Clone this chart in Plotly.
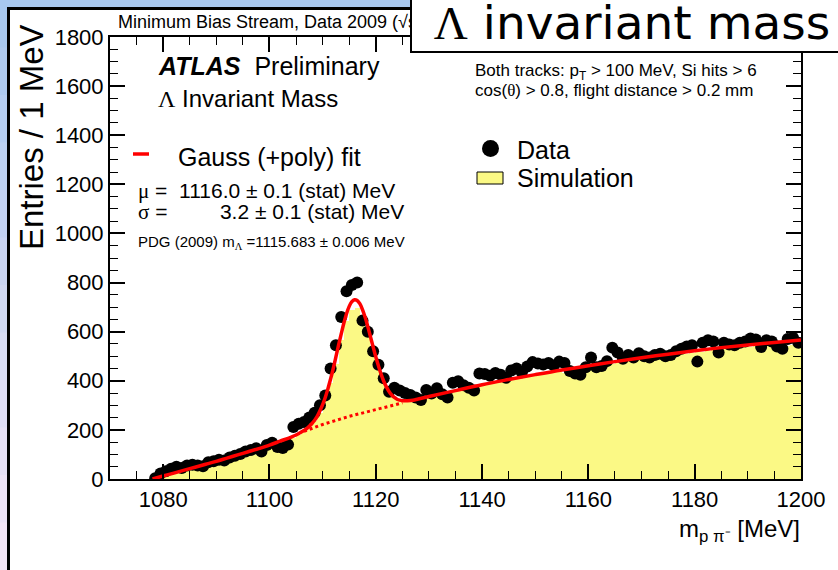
import plotly.graph_objects as go

# ---------------- data ----------------
bin_centers = [1078.5 + i for i in range(122)]

data_counts = [
    3, 22, 32, 42, 50, 45, 55, 58, 55, 52,
    68, 72, 78, 75, 88, 95, 102, 112, 118, 125,
    112, 138, 148, 130, 126, 140, 212, 225, 232, 250,
    270, 300, 340, 450, 545, 660, 765, 790, 800, 645,
    600, 520, 465, 410, 355, 372, 360, 350, 342, 332,
    322, 362, 348, 370, 345, 332, 392, 398, 382, 372,
    360, 430, 428, 420, 432, 425, 412, 442, 450, 435,
    458, 476, 470, 466, 472, 462, 478, 472, 440, 430,
    425, 455, 495, 455, 460, 480, 535, 515, 490, 505,
    495, 512, 500, 495, 505, 510, 500, 505, 520, 530,
    540, 545, 478, 555, 565, 560, 515, 555, 548, 545,
    555, 560, 572, 568, 538, 565, 560, 540, 530, 570,
    575, 555,
]

sim_counts = [
    2, 8, 14, 20, 26, 31, 37, 43, 49, 55,
    60, 66, 72, 78, 84, 91, 97, 104, 111, 117,
    124, 131, 138, 146, 153, 161, 168, 178, 192, 210,
    235, 270, 325, 390, 470, 565, 645, 690, 695, 660,
    595, 515, 450, 390, 350, 330, 320, 318, 320, 322,
    327, 332, 337, 342, 347, 352, 356, 361, 366, 371,
    375, 380, 384, 388, 392, 396, 400, 404, 408, 412,
    416, 420, 424, 428, 431, 435, 438, 433, 428, 430,
    436, 445, 452, 458, 462, 466, 470, 474, 477, 480,
    483, 486, 489, 492, 495, 498, 500, 503, 506, 509,
    511, 514, 516, 519, 521, 524, 526, 528, 530, 532,
    534, 536, 538, 540, 541, 542, 543, 540, 536, 540,
    545, 548,
]

fit_x = [1078, 1079, 1080, 1082, 1084, 1086, 1088, 1090, 1092, 1094, 1096, 1098,
         1100, 1102, 1104, 1105, 1106, 1107, 1108, 1108.5, 1109, 1109.5, 1110,
         1110.5, 1111, 1111.5, 1112, 1112.5, 1113, 1113.5, 1114, 1114.5, 1115,
         1115.5, 1116, 1116.5, 1117, 1117.5, 1118, 1118.5, 1119, 1119.5, 1120,
         1120.5, 1121, 1121.5, 1122, 1122.5, 1123, 1123.5, 1124, 1124.5, 1125,
         1126, 1127, 1128, 1130, 1135, 1140, 1145, 1150, 1155, 1160, 1165, 1170,
         1175, 1180, 1185, 1190, 1195, 1200]
fit_y = [0, 6, 12, 24, 36, 48, 60, 72, 85, 98, 111, 124,
         138, 154, 170, 179, 191, 205, 226, 239, 256, 278, 303,
         332, 368, 407, 450, 497, 545, 591, 635, 673, 703,
         722, 730, 727, 714, 690, 659, 621, 580, 538, 498,
         461, 427, 398, 375, 356, 342, 332, 325, 321, 319,
         319, 321, 326, 336, 360, 384, 405, 425, 444, 461, 478, 494,
         508, 522, 535, 546, 556, 566]

bkg_x = [1106.5, 1110, 1115, 1120, 1125]
bkg_y = [194, 222, 255, 283, 310]

x_range = [1070, 1200]
y_range = [0, 1800]

# ---------------- geometry helpers (pixel -> paper) ----------------
W, H = 838, 570
L, R, T, B = 110, 37, 37, 91
PW, PH = W - L - R, H - T - B


def px(x):
    return (x - L) / PW


def py(y):
    return (H - B - y) / PH


SANS = "Liberation Sans, Arial, sans-serif"
SIM_COLOR = "#fbf985"

fig = go.Figure()

fig.add_trace(go.Bar(x=bin_centers, y=sim_counts, width=1.0,
                     marker=dict(color=SIM_COLOR, line=dict(width=0)),
                     showlegend=False, hoverinfo="skip"))
fig.add_trace(go.Scatter(x=bin_centers, y=data_counts, mode="markers",
                         marker=dict(color="black", size=12, line=dict(width=0)),
                         showlegend=False))
fig.add_trace(go.Scatter(x=bkg_x, y=bkg_y, mode="lines",
                         line=dict(color="#ff0000", width=3, dash="dot"),
                         showlegend=False))
fig.add_trace(go.Scatter(x=fit_x, y=fit_y, mode="lines", line_shape="spline",
                         line=dict(color="#ff0000", width=3.5),
                         showlegend=False))

axis_common = dict(showline=True, linecolor="black", linewidth=2, mirror="ticks",
                   ticks="inside", ticklen=15, tickwidth=1.5, tickcolor="black",
                   showgrid=False, zeroline=False,
                   tickfont=dict(family=SANS, size=22, color="black"))

fig.update_xaxes(range=x_range, dtick=20, tick0=1080,
                 minor=dict(ticks="inside", ticklen=8, dtick=5, tick0=1080,
                            tickcolor="black", tickwidth=1.2, showgrid=False),
                 **axis_common)
fig.update_yaxes(range=y_range, dtick=200, tick0=0,
                 minor=dict(ticks="inside", ticklen=8, dtick=50, tick0=0,
                            tickcolor="black", tickwidth=1.2, showgrid=False),
                 **axis_common)

shapes = []
# slide background strip (gradient approximation)
top_c = (168, 200, 240)
bot_c = (243, 230, 247)
n = 12
for i in range(n):
    f = i / (n - 1)
    c = tuple(int(top_c[k] + (bot_c[k] - top_c[k]) * f) for k in range(3))
    y0 = H * i / n
    y1 = H * (i + 1) / n + 1
    shapes.append(dict(type="rect", xref="paper", yref="paper",
                       x0=px(-2), x1=px(7), y0=py(y1), y1=py(y0),
                       fillcolor="rgb(%d,%d,%d)" % c, line=dict(width=0), layer="above"))
shapes.append(dict(type="rect", xref="paper", yref="paper",
                   x0=px(-2), x1=px(412), y0=py(7), y1=py(-2),
                   fillcolor="rgb(168,200,240)", line=dict(width=0), layer="above"))
# black slide frame lines
shapes.append(dict(type="line", xref="paper", yref="paper",
                   x0=px(8.5), x1=px(8.5), y0=py(7), y1=py(H + 2),
                   line=dict(color="black", width=3), layer="above"))
shapes.append(dict(type="line", xref="paper", yref="paper",
                   x0=px(7), x1=px(412), y0=py(8.5), y1=py(8.5),
                   line=dict(color="black", width=3), layer="above"))
# legend glyphs
shapes.append(dict(type="line", xref="paper", yref="paper",
                   x0=px(133), x1=px(149), y0=py(154), y1=py(154),
                   line=dict(color="#ff0000", width=3.5), layer="above"))
shapes.append(dict(type="circle", xref="paper", yref="paper",
                   x0=px(482), x1=px(499), y0=py(157), y1=py(140),
                   fillcolor="black", line=dict(width=0), layer="above"))
shapes.append(dict(type="rect", xref="paper", yref="paper",
                   x0=px(477), x1=px(503), y0=py(184), y1=py(172),
                   fillcolor=SIM_COLOR, line=dict(color="black", width=1), layer="above"))

fig.update_layout(shapes=shapes)

ann = []


def text(x, y, s, size, family=SANS, xanchor="left", **kw):
    ann.append(dict(xref="paper", yref="paper", x=px(x), y=py(y), text=s,
                    showarrow=False, xanchor=xanchor, yanchor="middle",
                    font=dict(family=family, size=size, color="black"), **kw))


sig = "<span style='font-family:Liberation Serif'>%s</span>"

text(116, 22, "Minimum Bias Stream, Data 2009 (√s = 900 GeV)", 18)
text(156, 66, "<b><i>ATLAS</i></b>&nbsp;&nbsp;Preliminary", 25)
text(156, 99, sig % "Λ" + " Invariant Mass", 24)
text(176, 157, "Gauss (+poly) fit", 25)
text(136, 191, sig % "μ" + " =&nbsp;&nbsp;1116.0 ± 0.1 (stat) MeV", 21)
text(136, 212, sig % "σ" + " =&nbsp;&nbsp;&nbsp;&nbsp;&nbsp;&nbsp;&nbsp;&nbsp;&nbsp;3.2 ± 0.1 (stat) MeV", 21)
text(136, 242, "PDG (2009) m<sub>" + sig % "Λ" + "</sub> =1115.683 ± 0.006 MeV", 15)
text(473, 72, "Both tracks: p<sub>T</sub> > 100 MeV, Si hits > 6", 17)
text(473, 90, "cos(" + sig % "θ" + ") > 0.8, flight distance > 0.2 mm", 17)
text(515, 150, "Data", 25)
text(515, 178, "Simulation", 25)
text(802, 530, "m<sub>p π⁻</sub> [MeV]", 24, xanchor="right")
ann.append(dict(xref="paper", yref="paper", x=px(31), y=py(137),
                text="Entries / 1 MeV", textangle=-90, showarrow=False,
                xanchor="center", yanchor="middle",
                font=dict(family=SANS, size=33, color="black")))
# title box overlay
ann.append(dict(xref="paper", yref="paper", x=px(410), y=py(53),
                xanchor="left", yanchor="bottom", width=440, height=58,
                text=sig % "Λ" + " invariant mass", showarrow=False,
                align="center", valign="middle",
                bgcolor="white", bordercolor="black", borderwidth=2, borderpad=0,
                font=dict(family="DejaVu Sans, Verdana, sans-serif", size=47, color="black")))

fig.update_layout(annotations=ann, width=W, height=H,
                  margin=dict(l=L, r=R, t=T, b=B, pad=0),
                  paper_bgcolor="white", plot_bgcolor="white",
                  bargap=0, showlegend=False)

fig.write_html("out.html")
